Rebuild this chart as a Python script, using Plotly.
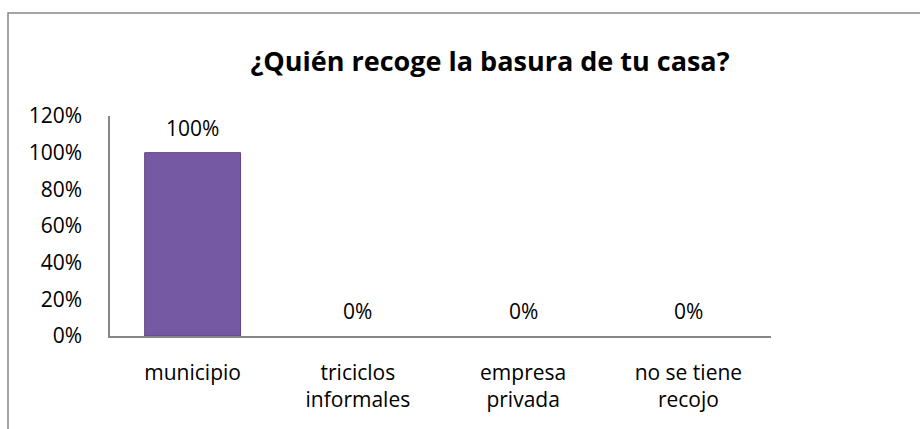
import plotly.graph_objects as go

categories = ["municipio", "triciclos<br>informales", "empresa<br>privada", "no se tiene<br>recojo"]
values = [1.00, 0.00, 0.00, 0.00]
value_labels = ["100%", "0%", "0%", "0%"]
tick_vals = [0, 0.2, 0.4, 0.6, 0.8, 1.0, 1.2]
tick_text = ["0%", "20%", "40%", "60%", "80%", "100%", "120%"]
title_text = "¿Quién recoge la basura de tu casa?"

FONT = "'Open Sans', sans-serif"
FS = 21

fig = go.Figure()
fig.add_trace(go.Bar(
    x=categories, y=values,
    marker=dict(color="#7659A3", line=dict(color="#5B4283", width=[1 if v > 0 else 0 for v in values])),
    width=0.58,
    hoverinfo="skip",
))

annotations = []
for c, v, t in zip(categories, values, value_labels):
    annotations.append(dict(x=c, y=v, xref="x", yref="y", text=t, showarrow=False,
                            yshift=25, font=dict(family=FONT, size=FS, color="#000000")))

fig.update_layout(
    width=920, height=429,
    margin=dict(l=110, r=149, t=116, b=93, autoexpand=False),
    paper_bgcolor="white", plot_bgcolor="white",
    showlegend=False,
    title=dict(text=title_text, x=490/920, xanchor="center", y=1-62/429, yanchor="middle",
               xref="container", yref="container",
               font=dict(family=FONT, size=27, color="#000000", weight="bold")),
    annotations=annotations,
    shapes=[dict(type="rect", xref="paper", yref="paper",
                 x0=(8-110)/661, x1=2.0, y0=-1.0, y1=(336-13)/220,
                 line=dict(color="#868686", width=1.5), fillcolor="rgba(0,0,0,0)", layer="below")],
)
fig.update_xaxes(showline=True, linecolor="#868686", linewidth=1.5, showgrid=False,
                 ticks="", tickfont=dict(family=FONT, size=FS, color="#000000"),
                 ticklabelstandoff=17)
fig.update_yaxes(range=[0, 1.2], tickvals=tick_vals, ticktext=tick_text,
                 showline=True, linecolor="#868686", linewidth=1.5, showgrid=False,
                 zeroline=False, ticks="", tickfont=dict(family=FONT, size=FS, color="#000000"),
                 ticklabelstandoff=22)

fig.write_html("out.html", config={"displayModeBar": False},
               post_script="document.body.style.margin='0';document.body.style.overflow='hidden';")
